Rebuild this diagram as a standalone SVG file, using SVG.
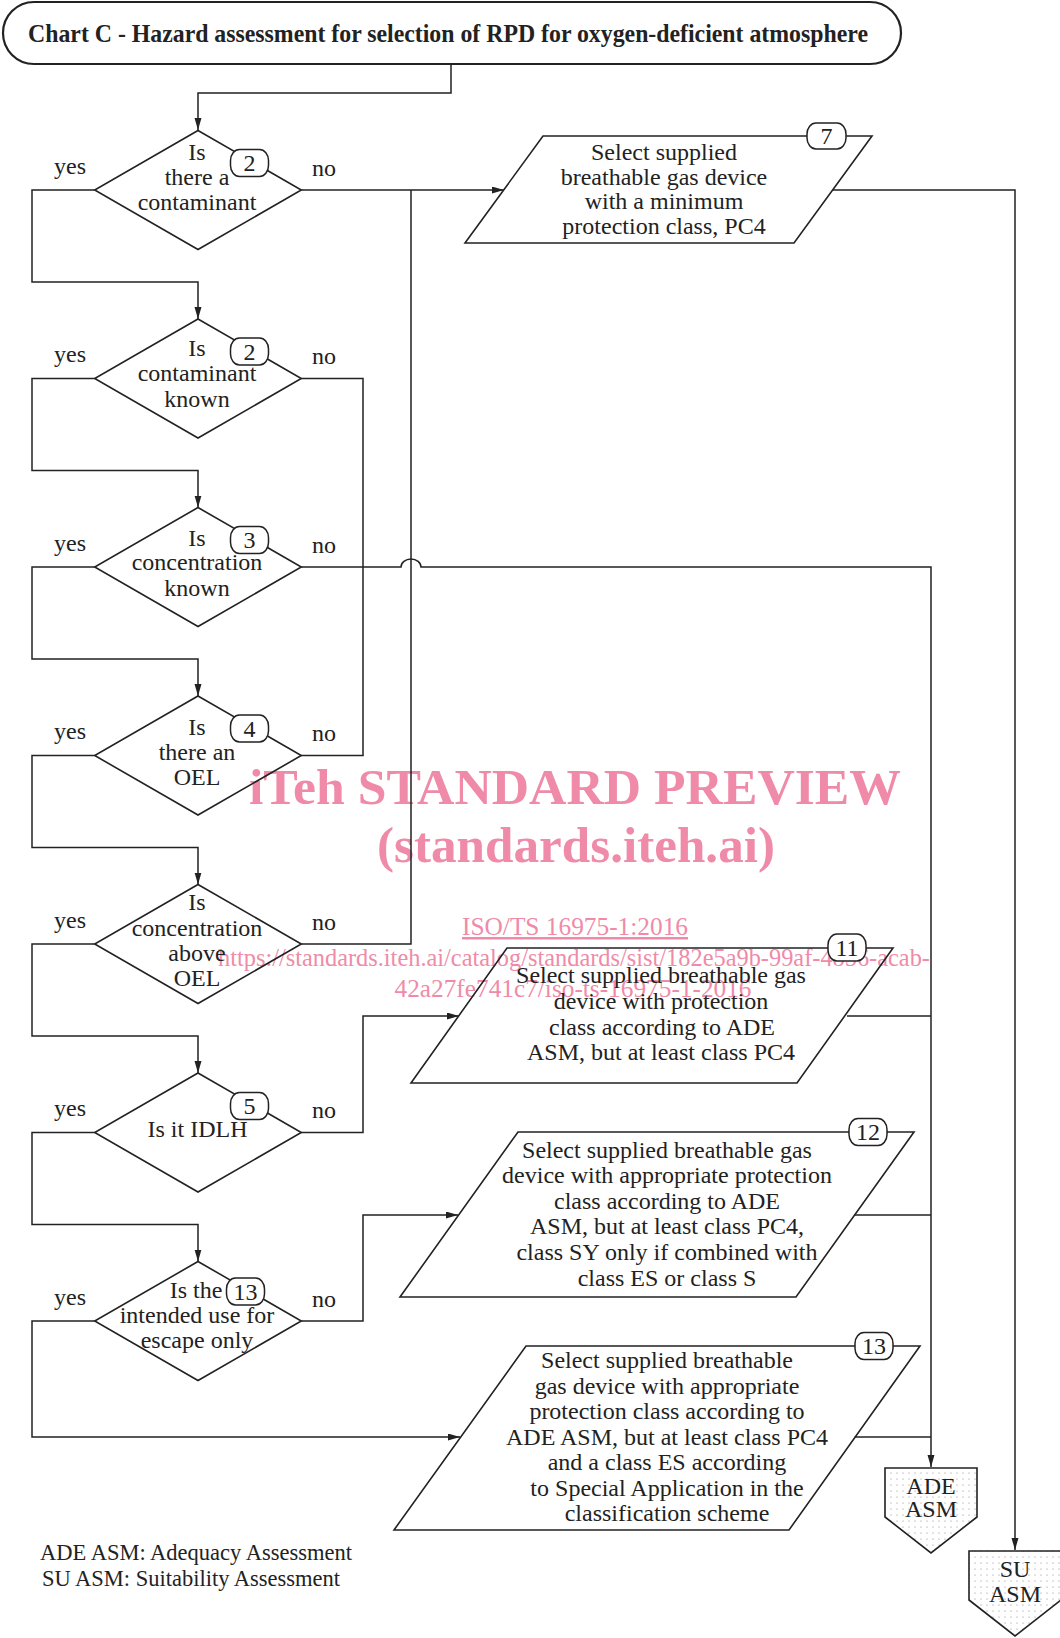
<svg xmlns="http://www.w3.org/2000/svg" width="1060" height="1638" viewBox="0 0 1060 1638">
<defs>
<marker id="arr" markerUnits="userSpaceOnUse" markerWidth="13" markerHeight="8" refX="12" refY="3.5" orient="auto">
<path d="M0,0 L12,3.5 L0,7 Z" fill="#222"/>
</marker>
<pattern id="dots" patternUnits="userSpaceOnUse" width="6" height="6">
<rect width="6" height="6" fill="#fff"/>
<circle cx="3" cy="3" r="0.6" fill="#888"/>
</pattern>
</defs>
<style>
.t{font-family:"Liberation Serif","Times New Roman",serif;font-size:24px;fill:#222;text-anchor:middle}
.lab{font-family:"Liberation Serif","Times New Roman",serif;font-size:24px;fill:#222;text-anchor:middle}
.shape{fill:none;stroke:#222;stroke-width:1.6;stroke-linejoin:miter}
.badge{fill:#fff;stroke:#222;stroke-width:1.5}
.term{fill:url(#dots);stroke:#222;stroke-width:1.6}
.con{fill:none;stroke:#222;stroke-width:1.5}
.arrow{marker-end:url(#arr)}
.wm{font-family:"Liberation Serif","Times New Roman",serif;fill:#EF8BA8;text-anchor:middle}
</style>
<rect width="1060" height="1638" fill="#fff"/>

<g id="watermark">
<text class="wm" x="575" y="804" font-size="51" font-weight="bold" textLength="652" lengthAdjust="spacingAndGlyphs">iTeh STANDARD PREVIEW</text>
<text class="wm" x="576" y="862" font-size="51" font-weight="bold" textLength="398" lengthAdjust="spacingAndGlyphs">(standards.iteh.ai)</text>
<text class="wm" x="575" y="935" font-size="25" text-decoration="underline" textLength="226" lengthAdjust="spacingAndGlyphs">ISO/TS 16975-1:2016</text>
<text class="wm" x="574" y="966" font-size="25" textLength="712" lengthAdjust="spacingAndGlyphs">https://standards.iteh.ai/catalog/standards/sist/182e5a9b-99af-4856-acab-</text>
<text class="wm" x="573" y="997" font-size="25" textLength="357" lengthAdjust="spacingAndGlyphs">42a27fe741c7/iso-ts-16975-1-2016</text>
</g>

<g id="connectors">
<path class="con arrow" d="M451,64 V93 H198 V130"/>
<path class="con arrow" d="M94.7,190 H32 V282 H198 V319"/>
<path class="con arrow" d="M94.7,378.5 H32 V470.5 H198 V507.5"/>
<path class="con arrow" d="M94.7,567 H32 V659 H198 V696"/>
<path class="con arrow" d="M94.7,755.5 H32 V847.5 H198 V884.5"/>
<path class="con arrow" d="M94.7,944 H32 V1036 H198 V1073"/>
<path class="con arrow" d="M94.7,1132.5 H32 V1224.5 H198 V1261.5"/>
<path class="con arrow" d="M94.7,1321 H32 V1437 H460"/>
<path class="con arrow" d="M301.3,190 H504"/>
<path class="con" d="M301.3,944 H411 V190"/>
<path class="con" d="M301.3,378.5 H363 V755.5 H301.3"/>
<path class="con arrow" d="M301.3,567 H401 A10,8 0 0 1 421,567 H931 V1467"/>
<path class="con arrow" d="M301.3,1132.5 H363 V1016 H459"/>
<path class="con arrow" d="M301.3,1321 H363 V1215 H458"/>
<path class="con arrow" d="M833,190 H1015 V1550"/>
<path class="con" d="M847,1016 H931"/>
<path class="con" d="M854.6,1215 H931"/>
<path class="con" d="M854.7,1437 H931"/>
</g>

<g id="title">
<rect class="shape" x="3" y="2" width="898" height="62" rx="31" ry="31" style="stroke-width:2.2"/>
<text x="448" y="41.5" font-family="Liberation Serif, Times New Roman, serif" font-size="24.5" font-weight="bold" fill="#222" text-anchor="middle" textLength="840" lengthAdjust="spacingAndGlyphs">Chart C - Hazard assessment for selection of RPD for oxygen-deficient atmosphere</text>
</g>

<g id="d1">
<polygon class="shape" points="198,130.5 301.3,190 198,249.5 94.7,190"/>
<rect class="badge" x="230.5" y="149.5" width="38" height="27" rx="9" ry="11"/>
<text class="t" x="249.5" y="171">2</text>
<text class="t" x="197" y="159.5">Is</text>
<text class="t" x="197" y="185">there a</text>
<text class="t" x="197" y="210">contaminant</text>
<text class="lab" x="70" y="173.5">yes</text>
<text class="lab" x="324" y="175.5">no</text>
</g>

<g id="d2">
<polygon class="shape" points="198,319 301.3,378.5 198,438 94.7,378.5"/>
<rect class="badge" x="230.5" y="338" width="38" height="27" rx="9" ry="11"/>
<text class="t" x="249.5" y="359.5">2</text>
<text class="t" x="197" y="356">Is</text>
<text class="t" x="197" y="381">contaminant</text>
<text class="t" x="197" y="406.5">known</text>
<text class="lab" x="70" y="362">yes</text>
<text class="lab" x="324" y="364">no</text>
</g>

<g id="d3">
<polygon class="shape" points="198,507.5 301.3,567 198,626.5 94.7,567"/>
<rect class="badge" x="230.5" y="526.5" width="38" height="27" rx="9" ry="11"/>
<text class="t" x="249.5" y="548">3</text>
<text class="t" x="197" y="545.5">Is</text>
<text class="t" x="197" y="569.5">concentration</text>
<text class="t" x="197" y="595.5">known</text>
<text class="lab" x="70" y="550.5">yes</text>
<text class="lab" x="324" y="552.5">no</text>
</g>

<g id="d4">
<polygon class="shape" points="198,696 301.3,755.5 198,815 94.7,755.5"/>
<rect class="badge" x="230.5" y="715" width="38" height="27" rx="9" ry="11"/>
<text class="t" x="249.5" y="736.5">4</text>
<text class="t" x="197" y="734.5">Is</text>
<text class="t" x="197" y="759.5">there an</text>
<text class="t" x="197" y="784.5">OEL</text>
<text class="lab" x="70" y="739">yes</text>
<text class="lab" x="324" y="741">no</text>
</g>

<g id="d5">
<polygon class="shape" points="198,884.5 301.3,944 198,1003.5 94.7,944"/>
<text class="t" x="197" y="910">Is</text>
<text class="t" x="197" y="935.5">concentration</text>
<text class="t" x="197" y="961">above</text>
<text class="t" x="197" y="986">OEL</text>
<text class="lab" x="70" y="927.5">yes</text>
<text class="lab" x="324" y="929.5">no</text>
</g>

<g id="d6">
<polygon class="shape" points="198,1073 301.3,1132.5 198,1192 94.7,1132.5"/>
<rect class="badge" x="230.5" y="1092.5" width="38" height="27" rx="9" ry="11"/>
<text class="t" x="249.5" y="1114">5</text>
<text class="t" x="197.5" y="1136.5">Is it IDLH</text>
<text class="lab" x="70" y="1116">yes</text>
<text class="lab" x="324" y="1118">no</text>
</g>

<g id="d7">
<polygon class="shape" points="198,1261.5 301.3,1321 198,1380.5 94.7,1321"/>
<rect class="badge" x="226.5" y="1278" width="38" height="27" rx="9" ry="11"/>
<text class="t" x="245.5" y="1299.5">13</text>
<text class="t" x="196" y="1297.5">Is the</text>
<text class="t" x="197" y="1322.5">intended use for</text>
<text class="t" x="197" y="1347.5">escape only</text>
<text class="lab" x="70" y="1304.5">yes</text>
<text class="lab" x="324" y="1306.5">no</text>
</g>

<g id="p7">
<polygon class="shape" points="543,136 872,136 794,243 465,243"/>
<rect class="badge" x="807" y="123" width="39" height="26" rx="9" ry="11"/>
<text class="t" x="826.5" y="144">7</text>
<text class="t" x="664" y="159.5">Select supplied</text>
<text class="t" x="664" y="184.5">breathable gas device</text>
<text class="t" x="664" y="209">with a minimum</text>
<text class="t" x="664" y="234">protection class, PC4</text>
</g>

<g id="p11">
<polygon class="shape" points="507,948 893,948 797,1083 411,1083"/>
<rect class="badge" x="828" y="934" width="38" height="27" rx="9" ry="11"/>
<text class="t" x="847" y="955.5">11</text>
<text class="t" x="661" y="983">Select supplied breathable gas</text>
<text class="t" x="661" y="1009">device with protection</text>
<text class="t" x="662" y="1034.5">class according to ADE</text>
<text class="t" x="661" y="1060">ASM, but at least class PC4</text>
</g>

<g id="p12">
<polygon class="shape" points="518,1132 914,1132 796,1297 400,1297"/>
<rect class="badge" x="849" y="1118.5" width="38" height="27" rx="9" ry="11"/>
<text class="t" x="868" y="1140">12</text>
<text class="t" x="667" y="1157.5">Select supplied breathable gas</text>
<text class="t" x="667" y="1183">device with appropriate protection</text>
<text class="t" x="667" y="1208.5">class according to ADE</text>
<text class="t" x="667" y="1234">ASM, but at least class PC4,</text>
<text class="t" x="667" y="1260">class SY only if combined with</text>
<text class="t" x="667" y="1286">class ES or class S</text>
</g>

<g id="p13">
<polygon class="shape" points="526,1346 920,1346 789,1530 394,1530"/>
<rect class="badge" x="855" y="1332.5" width="38" height="27" rx="9" ry="11"/>
<text class="t" x="874" y="1354">13</text>
<text class="t" x="667" y="1368">Select supplied breathable</text>
<text class="t" x="667" y="1394">gas device with appropriate</text>
<text class="t" x="667" y="1419">protection class according to</text>
<text class="t" x="667" y="1445">ADE ASM, but at least class PC4</text>
<text class="t" x="667" y="1470">and a class ES according</text>
<text class="t" x="667" y="1496">to Special Application in the</text>
<text class="t" x="667" y="1521">classification scheme</text>
</g>

<g id="ade">
<polygon class="term" points="885,1468 977,1468 977,1517 931,1553 885,1517"/>
<text class="t" x="931" y="1493.5">ADE</text>
<text class="t" x="931" y="1517">ASM</text>
</g>

<g id="su">
<polygon class="term" points="969,1551 1061,1551 1061,1600 1015,1636 969,1600"/>
<text class="t" x="1015" y="1577">SU</text>
<text class="t" x="1015" y="1601.5">ASM</text>
</g>

<g id="legend">
<text class="t" x="196" y="1560" style="font-size:22.5px">ADE ASM: Adequacy Assessment</text>
<text class="t" x="191" y="1585.5" style="font-size:22.5px">SU ASM: Suitability Assessment</text>
</g>
</svg>
